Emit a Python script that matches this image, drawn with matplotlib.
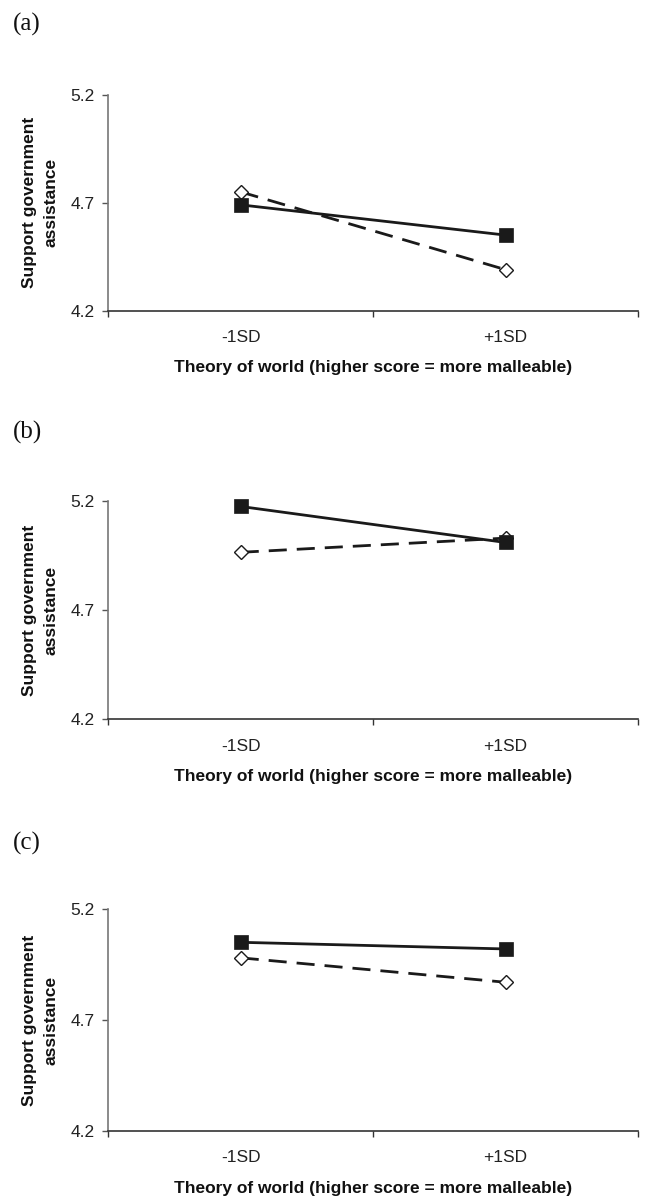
import matplotlib
matplotlib.use("Agg")
import matplotlib.pyplot as plt

categories = ["-1SD", "+1SD"]
panel_labels = ["(a)", "(b)", "(c)"]
solid_values = [
    [4.69, 4.55],
    [5.175, 5.01],
    [5.05, 5.02],
]
dashed_values = [
    [4.75, 4.39],
    [4.965, 5.03],
    [4.98, 4.87],
]
y_ticks = [4.2, 4.7, 5.2]
y_label = "Support government\nassistance"
x_label = "Theory of world (higher score = more malleable)"

W, H = 649, 1196
fig = plt.figure(figsize=(W / 100, H / 100), dpi=100)

# axes boxes in pixel coords: (top, bottom)
boxes = [(94.7, 310.7), (501.0, 719.3), (909.0, 1131.0)]
label_y = [24, 432, 843]
left_px, right_px = 108.3, 638.0

sans = ["Liberation Sans", "DejaVu Sans"]
serif = ["Liberation Serif", "DejaVu Serif"]

for i, (top, bot) in enumerate(boxes):
    ax = fig.add_axes([left_px / W, 1 - bot / H, (right_px - left_px) / W, (bot - top) / H])
    xs = [0.5, 1.5]
    ax.plot(xs, dashed_values[i], color="#1a1a1a", lw=2.0, linestyle=(0, (6.5, 3.6)),
            marker="D", ms=7.6, mfc="white", mec="#1a1a1a", mew=1.0, zorder=3, clip_on=False)
    ax.plot(xs, solid_values[i], color="#1a1a1a", lw=2.0, linestyle="-",
            marker="s", ms=9.5, mfc="#1a1a1a", mec="#1a1a1a", mew=0.5, zorder=4, clip_on=False)
    ax.set_xlim(0, 2)
    ax.set_ylim(4.2, 5.2)
    ax.set_yticks(y_ticks)
    ax.set_yticklabels([f"{v:.1f}" for v in y_ticks], fontfamily=sans, fontsize=12.5, color="#222222")
    ax.set_xticks([0, 1, 2])
    ax.set_xticklabels([])
    ax.set_xticks(xs, minor=True)
    ax.set_xticklabels(categories, minor=True, fontfamily=sans, fontsize=12.5, color="#222222")
    ax.tick_params(axis="x", which="minor", length=0, pad=14)
    ax.tick_params(axis="x", which="major", direction="out", length=4, width=1, color="#333333")
    ax.tick_params(axis="y", direction="out", length=4, width=1, color="#555555", pad=6)
    for s in ["top", "right"]:
        ax.spines[s].set_visible(False)
    ax.spines["left"].set_color("#777777")
    ax.spines["left"].set_linewidth(1.2)
    ax.spines["bottom"].set_color("#333333")
    ax.spines["bottom"].set_linewidth(1.2)
    ax.patch.set_alpha(0)

    # x label
    fig.text((left_px + right_px) / 2 / W, 1 - (bot + 57) / H, x_label, ha="center", va="center",
             fontfamily=sans, fontsize=12.5, fontweight="bold", color="#111111")
    # y label
    fig.text(40 / W, 1 - ((top + bot) / 2) / H, y_label, rotation=90, ha="center", va="center",
             multialignment="center", fontfamily=sans, fontsize=12.5, fontweight="bold",
             color="#111111", linespacing=1.55)
    # panel label
    fig.text(13 / W, 1 - label_y[i] / H, panel_labels[i], ha="left", va="center",
             fontfamily=serif, fontsize=18, color="#111111")

fig.savefig("out.png", dpi=100)
